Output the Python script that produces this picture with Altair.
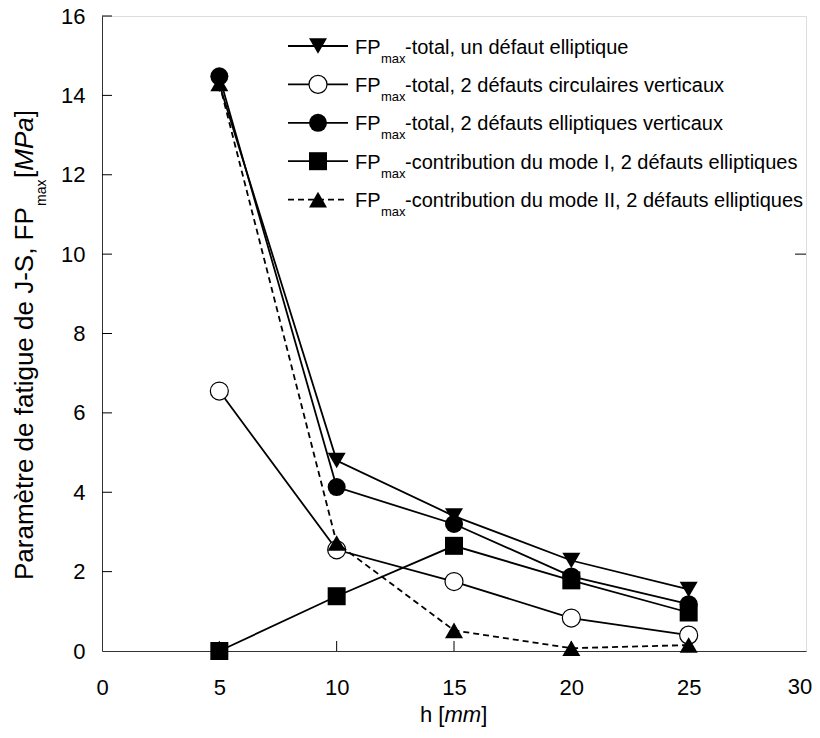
import altair as alt
import pandas as pd

# ---------------- data ----------------
h = [5, 10, 15, 20, 25]
s_un_elliptique = [14.28, 4.80, 3.40, 2.28, 1.55]
s_2_circulaires = [6.55, 2.55, 1.75, 0.83, 0.40]
s_2_elliptiques = [14.48, 4.13, 3.20, 1.88, 1.18]
s_mode_I = [0.0, 1.38, 2.65, 1.78, 0.97]
s_mode_II = [14.30, 2.72, 0.52, 0.07, 0.15]

series_values = [s_un_elliptique, s_2_circulaires, s_2_elliptiques, s_mode_I, s_mode_II]
legend_labels = [
    "-total, un défaut elliptique",
    "-total, 2 défauts circulaires verticaux",
    "-total, 2 défauts elliptiques verticaux",
    "-contribution du mode I, 2 défauts elliptiques",
    "-contribution du mode II, 2 défauts elliptiques",
]
shapes = ["triangle-down", "circle", "circle", "square", "triangle-up"]
fills = ["black", "white", "black", "black", "black"]
dashed = [False, False, False, False, True]

x_ticks = [0, 5, 10, 15, 20, 25, 30]
y_ticks = [0, 2, 4, 6, 8, 10, 12, 14, 16]

# ---------------- layout ----------------
W, H = 704, 635
FONT = "Liberation Sans"
MS = 324  # marker size
LW = 1.8
XLP = 26  # x label padding

xs = alt.Scale(domain=[0, 30], nice=False, zero=False)
ys = alt.Scale(domain=[0, 16], nice=False)
xaxis = alt.Axis(values=x_ticks, ticks=False, tickSize=0, labelPadding=XLP, labelFontSize=22,
                 labelFont=FONT, labelColor="black", domainColor="#333", grid=False,
                 labelFlush=False, title=None, format="d",
                 labelExpr="datum.value == 30 ? '' : datum.label")
yaxis = alt.Axis(values=y_ticks, ticks=False, tickSize=0, labelPadding=17, labelFontSize=22,
                 labelFont=FONT, labelColor="black", domainColor="#333", grid=False,
                 title=None, format="d")

X = alt.X("h:Q", scale=xs, axis=xaxis)
Y = alt.Y("v:Q", scale=ys, axis=yaxis)

layers = []
for vals, shp, fl, ds in zip(series_values, shapes, fills, dashed):
    df = pd.DataFrame({"h": h, "v": vals})
    lkw = dict(color="black", strokeWidth=LW)
    if ds:
        lkw["strokeDash"] = [6, 4]
    layers.append(alt.Chart(df).mark_line(**lkw).encode(x=X, y=Y))
    pkw = dict(shape=shp, size=MS, filled=True, fill=fl, opacity=1)
    if fl == "white":
        pkw.update(stroke="black", strokeWidth=1.2)
    layers.append(alt.Chart(df).mark_point(**pkw).encode(x=X, y=Y))

# last x tick label, nudged inward so it stays inside the drawing
last = pd.DataFrame({"h": [x_ticks[-1]]})
layers.append(alt.Chart(last).mark_text(fontSize=22, font=FONT, color="black", align="center",
                                        baseline="top", dx=-6).encode(
    x=X, y=alt.value(H + XLP), text=alt.Text("h:Q", format="d")))

# inward ticks
xt = pd.DataFrame({"h": x_ticks[1:-1]})
layers.append(alt.Chart(xt).mark_rule(color="black", strokeWidth=1).encode(
    x=X, y=alt.value(H), y2=alt.value(H - 10)))
yt = pd.DataFrame({"v": y_ticks[1:]})
layers.append(alt.Chart(yt).mark_rule(color="black", strokeWidth=1).encode(
    y=Y, x=alt.value(0), x2=alt.value(10)))
rt = pd.DataFrame({"v": [10]})
layers.append(alt.Chart(rt).mark_rule(color="black", strokeWidth=1).encode(
    y=Y, x=alt.value(W - 11), x2=alt.value(W)))

one = pd.DataFrame({"a": [0]})

def txt(text, x, y, size, italic=False, angle=None):
    kw = dict(text=text, fontSize=size, font=FONT, color="black", align="left",
              baseline="alphabetic")
    if italic:
        kw["fontStyle"] = "italic"
    if angle is not None:
        kw["angle"] = angle
    return alt.Chart(one).mark_text(**kw).encode(x=alt.value(x), y=alt.value(y))

# legend (manual, with subscripts)
LX0, LX1, LM = 186, 246, 216
LT = 253
for i, (lab, shp, fl, ds) in enumerate(zip(legend_labels, shapes, fills, dashed)):
    ly = 30 + 38.4 * i
    rkw = dict(color="black", strokeWidth=LW)
    if ds:
        rkw["strokeDash"] = [6, 4]
    layers.append(alt.Chart(one).mark_rule(**rkw).encode(
        x=alt.value(LX0), x2=alt.value(LX1), y=alt.value(ly)))
    pkw = dict(shape=shp, size=MS, filled=True, fill=fl, opacity=1)
    if fl == "white":
        pkw.update(stroke="black", strokeWidth=1.2)
    layers.append(alt.Chart(one).mark_point(**pkw).encode(x=alt.value(LM), y=alt.value(ly)))
    layers.append(txt("FP", LT, ly + 7.5, 20))
    layers.append(txt("max", LT + 26, ly + 16.5, 13))
    layers.append(txt(lab, LT + 50, ly + 7.5, 20))

# x title: h [mm]
xb = 706
xt0 = 318
layers.append(txt("h [", xt0, xb, 22))
layers.append(txt("mm", xt0 + 24.5, xb, 22, italic=True))
layers.append(txt("]", xt0 + 24.5 + 36.7, xb, 22))

# y title (rotated)
ybx, ysub = -69, -56
y0 = 564
layers.append(txt("Paramètre de fatigue de J-S, FP", ybx, y0, 26, angle=270))
layers.append(txt("max", ysub, y0 - 374, 14, angle=270))
layers.append(txt("[", ybx, y0 - 374 - 28, 26, angle=270))
layers.append(txt("MPa", ybx, y0 - 374 - 28 - 7.3, 26, italic=True, angle=270))
layers.append(txt("]", ybx, y0 - 374 - 28 - 7.3 - 53.5, 26, angle=270))

chart = alt.layer(*layers).properties(
    width=W, height=H,
    autosize=alt.AutoSizeParams(type="none"),
    padding={"left": 94, "top": 8, "right": 6, "bottom": 76},
).configure_view(stroke="#333", strokeWidth=1).configure(background="white")

chart.save("out.html", embed_options={"renderer": "svg", "actions": False})
